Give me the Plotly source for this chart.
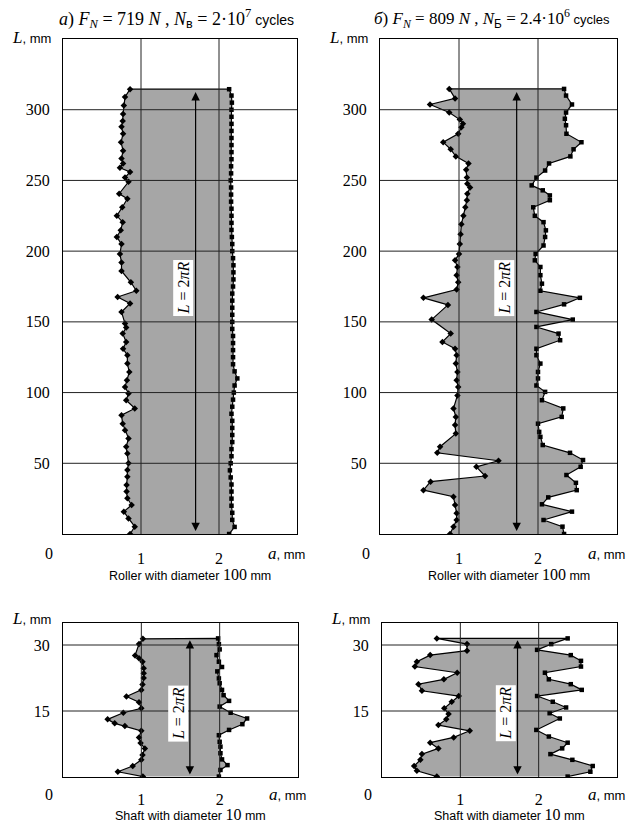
import plotly.graph_objects as go

# ---------------------------------------------------------------------------
# Wear-track profiles: L (mm along the track) versus a (mm, track edge position)
# ---------------------------------------------------------------------------

# a) roller, F_N = 719 N  -- left edge of the track
roller_a_left_L = [0, 5.2, 11, 15.8, 20.5, 25.2, 30, 34.6, 40.5, 45.2, 50, 57, 61.7, 67.6,
                   73.4, 78, 84, 88.8, 94.6, 99.4, 104, 108.8, 114.6, 120.5, 126.4, 131,
                   135.8, 141.7, 146, 148.8, 157, 163, 167.6, 172, 178, 186, 192, 198, 205,
                   210, 214.7, 220.5, 225, 231, 237, 240.6, 249, 252, 256, 259, 262, 265.5,
                   271, 277, 283, 288, 292, 297, 303, 309, 314.5]
roller_a_left_a = [0.86, 0.92, 0.84, 0.78, 0.88, 0.825, 0.815, 0.815, 0.825, 0.825, 0.84,
                   0.825, 0.81, 0.84, 0.795, 0.765, 0.75, 0.92, 0.81, 0.84, 0.795, 0.82,
                   0.85, 0.825, 0.825, 0.77, 0.81, 0.765, 0.81, 0.795, 0.75, 0.86, 0.70,
                   0.94, 0.87, 0.75, 0.75, 0.73, 0.75, 0.69, 0.74, 0.765, 0.69, 0.76, 0.825,
                   0.72, 0.84, 0.795, 0.86, 0.73, 0.77, 0.75, 0.77, 0.744, 0.77, 0.75,
                   0.765, 0.77, 0.78, 0.795, 0.86]
# a) roller -- right edge of the track
roller_a_right_L = [0, 5, 10, 15, 20, 25, 30, 35, 40, 45, 50, 55, 60, 65, 70, 75, 80, 85, 90,
                    95, 100, 105, 110, 115, 120, 125, 130, 135, 140, 145, 150, 155, 160, 165,
                    170, 175, 180, 185, 190, 195, 200, 205, 210, 215, 220, 225, 230, 235,
                    240, 245, 250, 255, 260, 265, 270, 275, 280, 285, 290, 295, 300, 305,
                    310, 314.5]
roller_a_right_a = [2.13, 2.20, 2.17, 2.17, 2.16, 2.16, 2.16, 2.16, 2.15, 2.14, 2.15, 2.16,
                    2.16, 2.17, 2.17, 2.17, 2.17, 2.16, 2.17, 2.18, 2.19, 2.20, 2.235, 2.20,
                    2.18, 2.18, 2.18, 2.18, 2.18, 2.17, 2.17, 2.17, 2.17, 2.17, 2.17, 2.18,
                    2.185, 2.185, 2.185, 2.18, 2.17, 2.17, 2.165, 2.16, 2.16, 2.16, 2.16,
                    2.155, 2.155, 2.155, 2.15, 2.155, 2.155, 2.16, 2.16, 2.16, 2.16, 2.16,
                    2.16, 2.16, 2.16, 2.165, 2.16, 2.13]

# б) roller, F_N = 809 N -- left edge
roller_b_left_L = [0, 5.2, 9.9, 14.6, 20.5, 26.4, 31, 37, 41, 47.5, 51.8, 57.4, 61.7, 71, 77,
                   82.8, 88.8, 98, 104, 108.8, 114.6, 120.5, 126.4, 131, 135.8, 141.7, 151.6,
                   162, 167, 172.8, 178, 183, 188.8, 193.5, 198, 205, 212, 219, 225, 231,
                   236, 240.6, 245, 247.7, 252, 257.5, 262, 267, 272, 277, 283, 287.6, 290,
                   293, 298, 303.7, 308, 314.7]
roller_b_left_a = [0.886, 0.93, 0.97, 0.97, 0.95, 0.93, 0.55, 0.64, 1.33, 1.22, 1.50, 0.725,
                   0.76, 0.96, 0.95, 0.96, 0.93, 0.98, 0.99, 0.97, 0.98, 0.96, 0.97, 0.95,
                   0.79, 0.895, 0.654, 0.86, 0.55, 0.97, 0.99, 0.97, 0.98, 0.95, 1.00, 1.01,
                   1.02, 1.03, 1.055, 1.08, 1.10, 1.105, 1.14, 1.105, 1.10, 1.09, 1.12, 0.96,
                   0.895, 0.80, 0.99, 1.03, 1.05, 1.01, 0.877, 0.633, 0.95, 0.877]
# б) roller -- right edge
roller_b_right_L = [0, 5.2, 9.9, 15.8, 21, 25.9, 31, 36.2, 41.7, 47.5, 52.3, 57.4, 62.9, 68.7,
                    72.2, 78, 82.8, 88.8, 94.6, 100.5, 105, 110, 114.6, 120.5, 126.4, 131,
                    137, 141.7, 146.4, 151.6, 157, 162.4, 167, 172, 177, 183, 188.8, 193.5,
                    198, 204, 210, 214.7, 220.5, 225, 231, 236, 239.4, 243, 246.5, 252, 257,
                    262, 267, 272, 277, 283, 289, 293.6, 298, 303.7, 310, 314.7]
roller_b_right_a = [2.33, 2.31, 2.07, 2.43, 2.05, 2.13, 2.49, 2.48, 2.36, 2.54, 2.57, 2.405,
                    2.06, 2.03, 2.015, 2.00, 2.30, 2.32, 2.05, 2.09, 1.98, 2.00, 2.00, 2.03,
                    1.98, 1.98, 2.28, 2.26, 1.98, 2.44, 1.98, 2.33, 2.53, 2.03, 2.05, 2.03,
                    2.03, 1.96, 1.97, 2.07, 2.09, 2.10, 2.07, 1.96, 1.94, 2.15, 2.15, 2.06,
                    1.92, 1.98, 2.09, 2.14, 2.41, 2.45, 2.55, 2.36, 2.355, 2.34, 2.355, 2.43,
                    2.355, 2.33]

# a) shaft -- left edge
shaft_a_left_L = [0.1, 1.2, 2.5, 3.9, 5.0, 6.5, 7.7, 9.0, 10.5, 11.6, 12.2, 13.1, 14.6, 15.6,
                  17.0, 18.3, 19.8, 21.0, 22.5, 23.6, 24.7, 26.2, 27.0, 27.6, 30.2, 31.4]
shaft_a_left_a = [1.02, 0.70, 0.89, 1.00, 1.015, 1.045, 0.99, 0.97, 1.00, 0.79, 0.66, 0.57,
                  0.77, 1.00, 0.97, 0.81, 1.00, 1.015, 1.03, 1.03, 1.03, 1.015, 0.97, 0.92,
                  0.97, 1.02]
# a) shaft -- right edge
shaft_a_right_L = [0.1, 1.6, 2.7, 4.0, 5.4, 6.9, 8.0, 9.5, 10.7, 12.0, 13.3, 14.6, 16.0,
                   17.3, 18.6, 19.8, 21.3, 22.4, 24.0, 25.0, 26.2, 27.7, 29.0, 30.2, 31.5]
shaft_a_right_a = [1.99, 2.01, 2.10, 2.03, 2.01, 2.01, 2.00, 1.99, 2.12, 2.29, 2.35, 2.14,
                   2.00, 2.12, 2.05, 2.03, 2.00, 1.99, 1.97, 2.03, 1.99, 1.96, 2.00, 1.99,
                   1.98]

# б) shaft -- left edge
shaft_b_left_L = [0.1, 1.4, 2.5, 3.9, 5.2, 6.5, 7.8, 9.0, 10.5, 11.8, 13.1, 14.3, 15.6, 17.1,
                  18.4, 19.6, 21.1, 22.2, 23.7, 25.1, 26.2, 27.7, 28.7, 30.2, 31.5]
shaft_b_left_a = [0.70, 0.445, 0.41, 0.49, 0.51, 0.72, 0.615, 0.915, 1.12, 0.72, 0.82, 0.85,
                  0.795, 0.89, 0.98, 0.51, 0.465, 0.79, 0.96, 0.42, 0.445, 0.615, 1.085,
                  1.085, 0.70]
# б) shaft -- right edge
shaft_b_right_L = [0.1, 1.2, 2.5, 3.9, 5.2, 6.5, 7.8, 9.2, 10.7, 13.3, 14.5, 15.8, 17.1,
                   18.4, 19.8, 21.1, 22.2, 23.7, 25.1, 26.4, 27.7, 28.9, 30.2, 31.5]
shaft_b_right_a = [2.37, 2.66, 2.69, 2.43, 2.15, 2.30, 2.37, 2.13, 1.97, 2.27, 2.14, 2.35,
                   2.18, 1.98, 2.55, 2.41, 2.13, 2.08, 2.54, 2.54, 2.41, 1.98, 2.16, 2.37]

# axis ticks
a_ticks = [1, 2]
roller_L_ticks = [50, 100, 150, 200, 250, 300]
shaft_L_ticks = [15, 30]

# texts
titles = ["<i>a</i>) <i>F</i><sub><i>N</i></sub> = 719 <i>N</i> , "
          "<i>N</i><sub><span style='font-family:Liberation Sans'>в</span></sub> = 2·10<sup>7</sup>"
          "<span style='font-family:Liberation Sans;font-size:14px'> cycles</span>",
          "<i>б</i>) <i>F</i><sub><i>N</i></sub> = 809 <i>N</i> , "
          "<i>N</i><sub><span style='font-family:Liberation Sans'>Б</span></sub> = 2.4·10<sup>6</sup>"
          "<span style='font-family:Liberation Sans;font-size:13px'> cycles</span>"]
roller_caption = "Roller with diameter <span style='font-family:Liberation Serif;font-size:16px'>100</span> mm"
shaft_caption = "Shaft with diameter <span style='font-family:Liberation Serif;font-size:16px'>10</span> mm"
arrow_label = "<i>L</i> = 2<i>π</i><i>R</i>"
L_label = "<i>L</i><span style='font-family:Liberation Sans;font-size:13px'>, mm</span>"
a_label = "<i>a</i><span style='font-family:Liberation Sans;font-size:13px'>, mm</span>"

SERIF = "Liberation Serif"
SANS = "Liberation Sans"
FILL = "#a6a6a6"
W, H = 640, 823


def fx(x):
    return x / W


def fy(y):
    return 1 - y / H


# panel frames in pixels: (left, right, top, bottom)
panels = [
    dict(box=(63, 297, 39, 534), data=(roller_a_left_a, roller_a_left_L, roller_a_right_a, roller_a_right_L),
         yr=350, yt=roller_L_ticks, arrow_x=1.70, arrow=(1.0, 312.5), lab_y=174,
         caption=roller_caption, cap_dy=40, L_dy=-1, tick_dy=19, standoff=10),
    dict(box=(380, 617, 39, 534), data=(roller_b_left_a, roller_b_left_L, roller_b_right_a, roller_b_right_L),
         yr=350, yt=roller_L_ticks, arrow_x=1.73, arrow=(1.0, 312.5), lab_y=174,
         caption=roller_caption, cap_dy=40, L_dy=-1, tick_dy=19, standoff=10),
    dict(box=(63, 298, 623, 777), data=(shaft_a_left_a, shaft_a_left_L, shaft_a_right_a, shaft_a_right_L),
         yr=35, yt=shaft_L_ticks, arrow_x=1.62, arrow=(0.2, 31.1), lab_y=14.5,
         caption=shaft_caption, cap_dy=37, L_dy=-5, tick_dy=17, standoff=8),
    dict(box=(382, 617, 623, 777), data=(shaft_b_left_a, shaft_b_left_L, shaft_b_right_a, shaft_b_right_L),
         yr=35, yt=shaft_L_ticks, arrow_x=1.73, arrow=(0.2, 31.1), lab_y=14.5,
         caption=shaft_caption, cap_dy=37, L_dy=-5, tick_dy=17, standoff=8),
]

fig = go.Figure()
shapes = []
annotations = []
layout = {}

for i, p in enumerate(panels, start=1):
    sfx = "" if i == 1 else str(i)
    xa, ya = "x" + sfx, "y" + sfx
    la, lL, ra, rL = p["data"]
    l, r, t, b = p["box"]

    # worn band: left edge upward, right edge back down
    fig.add_trace(go.Scatter(x=la + ra[::-1], y=lL + rL[::-1], xaxis=xa, yaxis=ya,
                             mode="lines", fill="toself", fillcolor=FILL,
                             line=dict(color="black", width=1.2), hoverinfo="skip",
                             showlegend=False))
    fig.add_trace(go.Scatter(x=la, y=lL, xaxis=xa, yaxis=ya, mode="markers",
                             marker=dict(symbol="diamond", size=5, color="black"),
                             showlegend=False))
    fig.add_trace(go.Scatter(x=ra, y=rL, xaxis=xa, yaxis=ya, mode="markers",
                             marker=dict(symbol="square", size=4.5, color="black"),
                             showlegend=False))

    axis_common = dict(showgrid=False, zeroline=False, showline=True, mirror=True,
                       linecolor="black", linewidth=1, ticks="", layer="above traces",
                       tickfont=dict(family=SERIF, size=16, color="black"))
    layout["xaxis" + sfx] = dict(axis_common, domain=[fx(l), fx(r)], range=[0, 3],
                                 tickvals=a_ticks, ticktext=[str(v) for v in a_ticks],
                                 anchor=ya, ticklabelstandoff=p["standoff"])
    layout["yaxis" + sfx] = dict(axis_common, domain=[fy(b), fy(t)], range=[0, p["yr"]],
                                 tickvals=p["yt"], ticktext=[str(v) for v in p["yt"]],
                                 anchor=xa, ticklabelstandoff=9)

    # grid drawn over the band
    for v in a_ticks:
        shapes.append(dict(type="line", xref=xa, yref=ya + " domain", x0=v, x1=v, y0=0, y1=1,
                           line=dict(color="#222222", width=1), layer="above"))
    for v in p["yt"]:
        shapes.append(dict(type="line", xref=xa + " domain", yref=ya, x0=0, x1=1, y0=v, y1=v,
                           line=dict(color="#222222", width=1), layer="above"))

    # double-headed arrow L = 2πR
    y_lo, y_hi = p["arrow"]
    annotations.append(dict(xref=xa, yref=ya, axref=xa, ayref=ya, x=p["arrow_x"], y=y_hi,
                            ax=p["arrow_x"], ay=y_lo, text="", showarrow=True,
                            arrowhead=2, startarrowhead=2, arrowside="end+start",
                            arrowsize=1.4, startarrowsize=1.4, arrowwidth=1.2,
                            arrowcolor="black"))
    annotations.append(dict(xref=xa, yref=ya, x=p["arrow_x"], y=p["lab_y"], xshift=-12,
                            text=arrow_label, showarrow=False, textangle=-90,
                            font=dict(family=SERIF, size=16, color="black"),
                            bgcolor="white", borderpad=1))

    # axis corner texts
    annotations.append(dict(xref="paper", yref="paper", x=fx(l - 14), y=fy(b + p["tick_dy"]), text="0",
                            showarrow=False, xanchor="center", yanchor="middle",
                            font=dict(family=SERIF, size=16, color="black")))
    annotations.append(dict(xref="paper", yref="paper", x=fx(r + 10), y=fy(b + p["tick_dy"]), text=a_label,
                            showarrow=False, xanchor="right", yanchor="middle",
                            font=dict(family=SERIF, size=17, color="black")))
    annotations.append(dict(xref="paper", yref="paper", x=fx(l - 10), y=fy(t + p["L_dy"]), text=L_label,
                            showarrow=False, xanchor="right", yanchor="middle",
                            font=dict(family=SERIF, size=17, color="black")))
    annotations.append(dict(xref="paper", yref="paper", x=fx((l + r) / 2 + 10), y=fy(b + p["cap_dy"]),
                            text=p["caption"], showarrow=False, xanchor="center", yanchor="middle",
                            font=dict(family=SANS, size=12.5, color="black")))

# panel headings
annotations.append(dict(xref="paper", yref="paper", x=fx(176), y=fy(18), text=titles[0],
                        showarrow=False, xanchor="center", yanchor="middle",
                        font=dict(family=SERIF, size=18, color="black")))
annotations.append(dict(xref="paper", yref="paper", x=fx(492), y=fy(18), text=titles[1],
                        showarrow=False, xanchor="center", yanchor="middle",
                        font=dict(family=SERIF, size=17, color="black")))

fig.update_layout(width=W, height=H, margin=dict(l=0, r=0, t=0, b=0),
                  paper_bgcolor="white", plot_bgcolor="white", showlegend=False,
                  shapes=shapes, annotations=annotations, **layout)

fig.write_html("out.html")
